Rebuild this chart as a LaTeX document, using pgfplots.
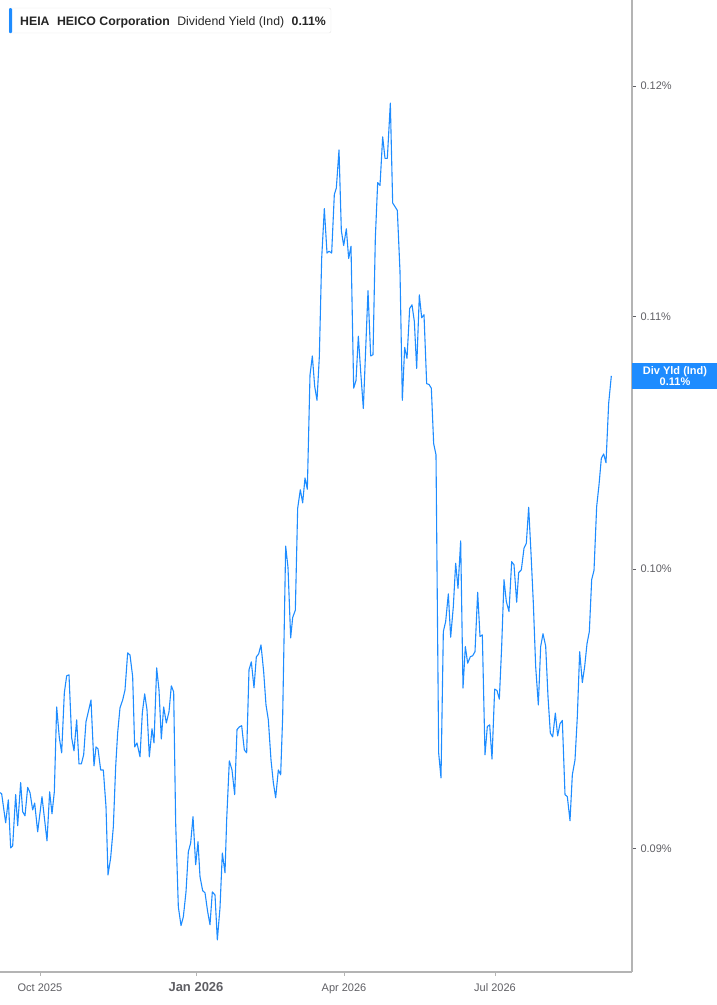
\documentclass[border=0pt]{standalone}
\usepackage{pgfplots}
\pgfplotsset{compat=1.18}
\usepackage{fontspec}
\setmainfont{Liberation Sans}

\definecolor{yld}{RGB}{30,140,255}
\definecolor{axgray}{RGB}{180,180,180}
\definecolor{lblgray}{RGB}{95,95,100}

% x: days since 1 Oct 2025, y: dividend yield in percent
\pgfplotstableread{
x y
-24.0 0.09191
-23.0 0.09187
-20.6 0.09087
-19.0 0.09166
-17.6 0.09001
-16.4 0.09008
-14.6 0.09184
-13.4 0.09077
-11.6 0.09226
-10.4 0.09125
-9.0 0.09111
-7.4 0.09209
-6.0 0.09191
-4.4 0.09131
-3.2 0.09155
-1.4 0.09056
1.2 0.09177
4.2 0.09025
5.8 0.09194
7.2 0.09118
8.6 0.09194
10.0 0.09493
11.6 0.09383
13.0 0.09330
14.6 0.09544
16.0 0.09605
17.4 0.09609
19.0 0.09383
20.4 0.09337
22.0 0.09447
23.4 0.09291
24.8 0.09291
26.2 0.09323
27.6 0.09440
29.0 0.09476
30.6 0.09518
32.4 0.09284
33.6 0.09351
34.8 0.09344
36.4 0.09270
38.0 0.09270
39.6 0.09142
40.8 0.08910
42.4 0.08968
44.0 0.09073
45.4 0.09281
46.6 0.09401
48.0 0.09490
49.6 0.09518
51.0 0.09554
52.6 0.09689
54.0 0.09681
55.6 0.09602
56.8 0.09351
58.2 0.09365
60.0 0.09316
61.4 0.09472
62.8 0.09540
64.2 0.09483
65.6 0.09316
67.2 0.09415
68.4 0.09365
70.0 0.09634
71.4 0.09554
72.8 0.09379
74.2 0.09493
75.8 0.09436
77.4 0.09476
78.8 0.09569
80.2 0.09547
81.4 0.09087
83.0 0.08803
84.6 0.08741
86.0 0.08770
87.6 0.08853
89.0 0.08988
90.4 0.09018
91.8 0.09108
93.4 0.08944
94.8 0.09022
96.0 0.08904
97.6 0.08857
99.0 0.08850
100.6 0.08787
102.0 0.08744
103.4 0.08853
105.0 0.08843
106.4 0.08694
108.0 0.08800
109.4 0.08984
111.0 0.08917
112.0 0.09097
113.6 0.09302
115.2 0.09270
116.8 0.09184
118.2 0.09412
119.6 0.09422
121.0 0.09426
122.6 0.09340
124.0 0.09330
125.4 0.09627
126.8 0.09656
128.4 0.09562
129.8 0.09674
131.2 0.09685
132.6 0.09718
134.2 0.09620
135.6 0.09500
137.0 0.09447
138.6 0.09305
140.0 0.09226
141.4 0.09173
143.0 0.09270
144.4 0.09253
145.6 0.09458
147.4 0.10087
148.8 0.10006
150.4 0.09744
151.6 0.09819
153.2 0.09846
154.6 0.10232
156.2 0.10304
157.6 0.10253
159.0 0.10350
160.4 0.10306
162.0 0.10760
163.4 0.10838
164.8 0.10715
166.2 0.10658
167.6 0.10835
169.0 0.11244
170.6 0.11458
172.2 0.11267
173.4 0.11275
175.0 0.11267
176.6 0.11519
177.8 0.11547
179.4 0.11714
180.8 0.11363
182.2 0.11299
183.8 0.11371
185.2 0.11244
186.6 0.11296
188.2 0.10707
189.6 0.10738
191.0 0.10919
192.4 0.10775
194.0 0.10625
195.4 0.10865
196.8 0.11108
198.4 0.10838
199.8 0.10843
201.2 0.11331
202.6 0.11571
204.0 0.11558
205.6 0.11772
207.0 0.11677
208.4 0.11677
210.2 0.11923
211.6 0.11482
213.0 0.11466
214.4 0.11450
216.0 0.11189
217.4 0.10658
218.8 0.10873
220.2 0.10828
221.8 0.11034
223.2 0.11049
224.6 0.10980
226.0 0.10787
227.6 0.11091
229.0 0.10995
230.4 0.11008
232.0 0.10725
233.4 0.10722
234.8 0.10707
236.2 0.10485
237.6 0.10441
239.2 0.09329
240.6 0.09242
242.0 0.09767
243.4 0.09804
245.0 0.09907
246.4 0.09746
248.0 0.09860
249.4 0.10022
250.8 0.09928
252.4 0.10107
253.8 0.09561
255.2 0.09712
256.6 0.09651
258.2 0.09675
259.6 0.09678
261.0 0.09693
262.6 0.09913
264.0 0.09749
265.4 0.09755
267.0 0.09323
268.4 0.09423
269.8 0.09429
271.2 0.09308
272.8 0.09557
274.2 0.09552
275.6 0.09521
277.0 0.09712
278.4 0.09960
279.8 0.09878
281.4 0.09841
283.0 0.10028
284.4 0.10016
286.0 0.09876
287.2 0.09987
288.8 0.09997
290.4 0.10079
291.8 0.10098
293.2 0.10236
294.6 0.10060
296.0 0.09872
297.4 0.09639
299.0 0.09500
300.4 0.09712
301.8 0.09759
303.4 0.09714
304.8 0.09530
306.2 0.09400
307.6 0.09386
309.2 0.09471
310.6 0.09390
312.0 0.09433
313.4 0.09445
315.0 0.09184
316.4 0.09177
318.0 0.09094
319.4 0.09253
321.0 0.09305
322.4 0.09459
323.8 0.09693
325.4 0.09581
326.8 0.09639
328.2 0.09722
329.6 0.09767
331.0 0.09960
332.4 0.09995
334.0 0.10239
335.4 0.10323
336.8 0.10427
338.2 0.10444
339.6 0.10410
341.2 0.10646
342.8 0.10757
}\yieldtable

\begin{document}
\begin{tikzpicture}
\useasboundingbox (0,0) rectangle (717pt,-1005pt);
\begin{axis}[
  at={(0pt,0pt)}, anchor=north west,
  scale only axis, width=632pt, height=972pt,
  xmin=-24, xmax=355.2,
  ymode=log, ymin=0.08589, ymax=0.12396,
  axis x line*=bottom, axis y line*=right,
  axis line style={axgray, line width=1.6pt},
  xtick={0,93.6,182.4,273},
  xticklabels={Oct 2025,{\fontsize{13}{14}\selectfont\bfseries Jan 2026},Apr 2026,Jul 2026},
  ytick={0.09,0.10,0.11,0.12},
  yticklabels={0.09\%,0.10\%,0.11\%,0.12\%},
  minor tick num=0,
  tick align=outside,
  major tick length=4pt,
  x tick style={axgray, line width=1pt},
  y tick style={lblgray, line width=1pt},
  xticklabel style={font=\fontsize{11}{12}\selectfont, text=lblgray, anchor=base, yshift=-16pt},
  yticklabel style={font=\fontsize{11}{12}\selectfont, text=lblgray, xshift=1pt},
  clip=true,
]
\addplot[yld, line width=1.1pt, line join=round] table[x=x, y=y] {\yieldtable};
\end{axis}

% legend box
\draw[draw=black!10, fill=white, rounded corners=2pt] (9pt,-8pt) rectangle (331pt,-33pt);
\fill[yld, rounded corners=1pt] (9pt,-8pt) rectangle (12pt,-33pt);
\node[anchor=base west, inner sep=0pt, font=\fontsize{12.3}{14}\selectfont, text=black!85]
  at (20pt,-25pt) {\textbf{HEIA}\hspace{7.5pt}\textbf{HEICO Corporation}\hspace{7.5pt}Dividend Yield (Ind)\hspace{7.5pt}\textbf{0.11\%}};

% last value tag
\fill[yld] (632pt,-363pt) rectangle (717pt,-389pt);
\node[text=white, font=\fontsize{11}{11}\selectfont\bfseries, align=center, inner sep=0pt]
  at (675pt,-376pt) {Div Yld (Ind)\\0.11\%};
\end{tikzpicture}
\end{document}
